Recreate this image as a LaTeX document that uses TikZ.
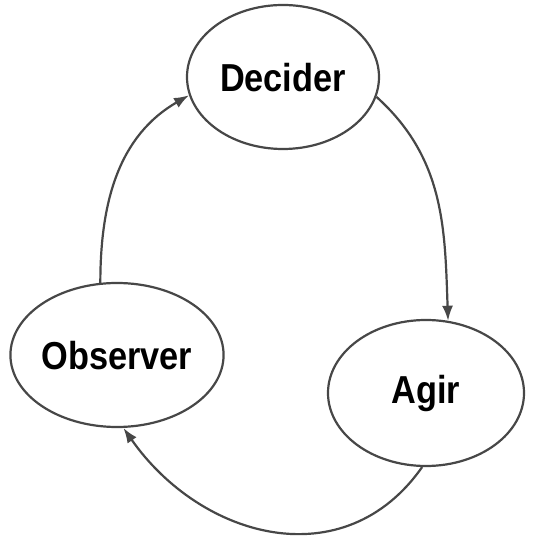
\documentclass[tikz,border=0pt]{standalone}
\usepackage{fontspec}
\setmainfont[FakeStretch=0.88]{Liberation Sans}
\usetikzlibrary{shapes.geometric,arrows.meta}
\begin{document}
\begin{tikzpicture}[x=1pt,y=1pt,
  state/.style={ellipse,draw=black!72,line width=2.2pt,fill=white,inner sep=0pt,
    font=\fontsize{39}{39}\selectfont\bfseries,text depth=0pt},
  arr/.style={draw=black!72,line width=2.2pt,-{Latex[length=15pt,width=11pt]}}]
\useasboundingbox (0,0) rectangle (534,540);
\node[state,minimum width=192pt,minimum height=144pt] (dec) at (283,463) {Decider};
\node[state,minimum width=194pt,minimum height=144pt] (obs) at (117,185) {Observer};
\node[state,minimum width=196pt,minimum height=146pt,text depth=8pt] (agir) at (426,147) {Agir};
\draw[arr] (obs.103) to[out=90,in=210] (dec.191);
\draw[arr] (dec.348) to[out=-42,in=92] (agir.73);
\draw[arr] (agir.267) to[out=235,in=-55,looseness=1.15] (obs.275);
\end{tikzpicture}
\end{document}
